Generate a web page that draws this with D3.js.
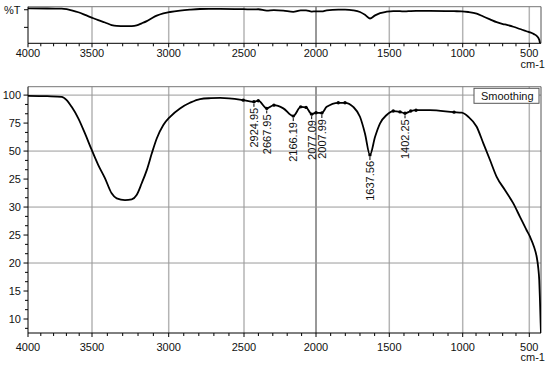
<!DOCTYPE html>
<html><head><meta charset="utf-8">
<script src="https://cdn.jsdelivr.net/npm/d3@7"></script>
<style>
html,body{margin:0;padding:0;background:#fff;}
svg{display:block;font-family:"Liberation Sans",Arial,sans-serif;}
</style></head>
<body>
<svg id="chart" width="550" height="366"></svg>
<script>
// ---- data ----
const wavenumbers = [4000,3850,3737,3698,3659,3607,3555,3502,3459,3415,3372,3339,3285,3241,3209,3176,3143,3110,3078,3035,2991,2925,2859,2792,2720,2659,2505,2431,2401,2342,2292,2227,2158,2106,2069,2030,2000,1960,1927,1848,1802,1746,1700,1666,1632,1597,1563,1518,1473,1427,1393,1354,1318,1223,1059,1007,958,895,845,795,745,683,620,570,521,494,460,437,423,415,409,403,400];
const transmittance = [99.75,99.6,99.4,98.2,95.8,91.7,86.3,80.4,75.0,70.25,64.9,63.1,62.5,62.75,64.3,68.5,73.2,79.2,84.5,89.3,92.25,95.25,97.25,98.6,98.9,99.0,98.2,97.6,98.0,95.25,96.4,95.25,92.5,95.8,95.6,93.2,93.7,93.6,95.8,97.25,97.25,95.8,92.25,86.3,78.6,85.1,89.9,92.9,94.3,94.0,93.5,94.3,94.6,94.6,93.9,93.7,92.25,88.7,82.75,76.8,70.8,66.1,61.3,56.5,51.8,49.4,45.8,42.25,38.1,33.9,26.8,18.5,15];
const peakWavenumbers = [2431,2342,2158,2030,1960,1632,1393];
const peakLabels = ["2924.95","2667.95","2166.19","2077.09","2007.99","1637.56","1402.25"];
const markerWavenumbers = [2505,2401,2292,2106,2069,2000,1848,1802,1473,1427,1354,1318,1059];
const xTickValues = [4000,3500,3000,2500,2000,1500,1000,500];
const xTickLabels = ["4000","3500","3000","2500","2000","1500","1000","500"];
const yTickValues = [100,90,80,70,60,50,40,30,20];
const yTickLabels = ["100","75","50","25","30","25","20","15","10"];
const yGridValues = [100,80,60,40];
const legendLabel = "Smoothing";
const xUnit = "cm-1";
const topAxisLabel = "%T";

// ---- layout ----
const svg = d3.select("#chart");
const L = 28, R = 541;
const x = d3.scaleLinear()
  .domain([4000,3500,3000,2500,2000,1500,1000,500,400])
  .range([L,92,168.7,244,316,389.3,462.7,529.3,R]);
const panels = [
  {id:"top", y: d3.scaleLinear().domain([26.5,103.4]).range([43.3,6.7]), yTicks:[97,60], grid:false, labelY:57, unitY:67.5},
  {id:"bot", y: d3.scaleLinear().domain([15,103]).range([333,86.7]), grid:true, labelY:350.5, unitY:361}
];
const data = wavenumbers.map((w,i)=>({w, v: transmittance[i]}));
const valueAt = w => transmittance[wavenumbers.indexOf(w)];
const minorX = d3.range(4000, 499, -100).filter(v => v % 500 !== 0);

panels.forEach(p => {
  const y = p.y;
  const y0 = y.range()[0], y1 = y.range()[1];
  const g = svg.append("g");
  g.append("clipPath").attr("id","clip-"+p.id).append("rect")
    .attr("x",L).attr("y",y1).attr("width",R-L).attr("height",y0-y1);

  // vertical grid
  g.selectAll(".vg").data(xTickValues.slice(1)).join("line")
    .attr("x1",d=>x(d)).attr("x2",d=>x(d)).attr("y1",y1).attr("y2",y0)
    .attr("stroke",d=> d===2000 ? "#333" : "#b4b4b4")
    .attr("stroke-width",d=> d===2000 ? 1 : 1.5);
  // horizontal grid
  if (p.grid) {
    g.selectAll(".hg").data(yGridValues).join("line")
      .attr("x1",L).attr("x2",R).attr("y1",d=>y(d)).attr("y2",d=>y(d))
      .attr("stroke","#9a9a9a").attr("stroke-width",1);
  }
  // frame
  g.append("line").attr("x1",L).attr("x2",R).attr("y1",y1).attr("y2",y1).attr("stroke","#777");
  g.append("line").attr("x1",R).attr("x2",R).attr("y1",y1).attr("y2",y0).attr("stroke","#555");
  g.append("line").attr("x1",L).attr("x2",L).attr("y1",y1).attr("y2",y0).attr("stroke","#000");
  g.append("line").attr("x1",L).attr("x2",R).attr("y1",y0).attr("y2",y0).attr("stroke","#000");

  // x ticks
  g.selectAll(".xt").data(xTickValues).join("line")
    .attr("x1",d=>x(d)).attr("x2",d=>x(d)).attr("y1",y0).attr("y2",y0+4).attr("stroke","#000");
  g.selectAll(".xm").data(minorX).join("line")
    .attr("x1",d=>x(d)).attr("x2",d=>x(d)).attr("y1",y0).attr("y2",y0+3).attr("stroke","#000");
  g.selectAll(".xl").data(xTickValues).join("text")
    .attr("x",d=>x(d)).attr("y",p.labelY).attr("text-anchor","middle")
    .attr("font-size",11).attr("fill","#111").text((d,i)=>xTickLabels[i]);
  g.append("text").attr("x",545).attr("y",p.unitY).attr("text-anchor","end")
    .attr("font-size",11).attr("fill","#111").text(xUnit);

  // y ticks
  if (p.id === "bot") {
    const minorY = [];
    yTickValues.forEach(v => { minorY.push(v - 10/3, v - 20/3); });
    g.selectAll(".ym").data(minorY.filter(v=>v>y.domain()[0])).join("line")
      .attr("x1",L-3).attr("x2",L).attr("y1",d=>y(d)).attr("y2",d=>y(d)).attr("stroke","#000");
    g.selectAll(".yt").data(yTickValues).join("line")
      .attr("x1",L-4.5).attr("x2",L).attr("y1",d=>y(d)).attr("y2",d=>y(d)).attr("stroke","#000");
    g.selectAll(".yl").data(yTickValues).join("text")
      .attr("x",21).attr("y",d=>y(d)).attr("dy","0.35em").attr("text-anchor","end")
      .attr("font-size",11).attr("fill","#111").text((d,i)=>yTickLabels[i]);
  } else {
    g.selectAll(".yt").data(p.yTicks).join("line")
      .attr("x1",L-4).attr("x2",L).attr("y1",d=>y(d)).attr("y2",d=>y(d)).attr("stroke","#000");
    g.append("text").attr("x",4).attr("y",14).attr("font-size",11).attr("fill","#111").text(topAxisLabel);
  }

  // curve
  const line = d3.line().x(d=>x(d.w)).y(d=>y(d.v)).curve(d3.curveMonotoneX);
  g.append("path").datum(data).attr("d",line).attr("fill","none")
    .attr("stroke","#000").attr("stroke-width",1.8).attr("clip-path","url(#clip-"+p.id+")");

  if (p.id === "bot") {
    // markers
    g.selectAll(".mk").data(markerWavenumbers.concat(peakWavenumbers)).join("circle")
      .attr("cx",d=>x(d)).attr("cy",d=>y(valueAt(d))).attr("r",1.7).attr("fill","#000");
    // peak labels
    peakWavenumbers.forEach((w,i) => {
      const px = x(w), py = y(valueAt(w));
      g.append("line").attr("x1",px).attr("x2",px).attr("y1",py+2).attr("y2",py+5)
        .attr("stroke","#000").attr("stroke-width",1);
      g.append("text").attr("transform",`translate(${px},${py+6}) rotate(-90)`)
        .attr("text-anchor","end").attr("dy","0.35em").attr("font-size",11)
        .attr("fill","#111").text(peakLabels[i]);
    });
    // legend
    g.append("rect").attr("x",474).attr("y",88.3).attr("width",65).attr("height",15)
      .attr("fill","#fff").attr("stroke","#555");
    g.append("text").attr("x",481).attr("y",99.5).attr("font-size",11).attr("fill","#111").text(legendLabel);
  }
});
</script>
</body></html>
